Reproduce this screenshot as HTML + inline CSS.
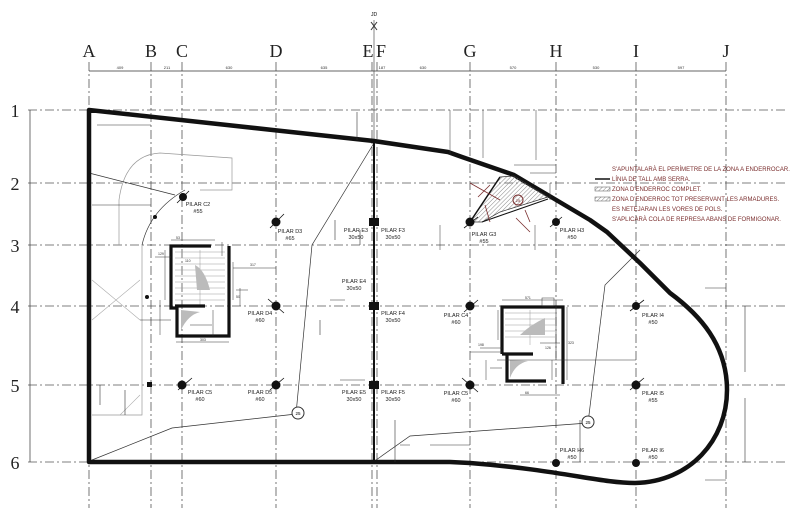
<!DOCTYPE html>
<html><head><meta charset="utf-8"><style>
html,body{margin:0;padding:0;background:#fff;}
svg{display:block;}
.s{font-family:"Liberation Sans",sans-serif;}
.ser{font-family:"Liberation Serif",serif;}
</style></head><body>
<svg width="800" height="532" viewBox="0 0 800 532" xmlns="http://www.w3.org/2000/svg">
<defs>
<pattern id="hat" width="3" height="3" patternUnits="userSpaceOnUse" patternTransform="rotate(45)"><line x1="0" y1="0" x2="0" y2="3" stroke="#888" stroke-width="1"/></pattern>
</defs>
<g stroke="#555" stroke-width="0.8" stroke-dasharray="9,3,2,3" fill="none">
<line x1="89" y1="62" x2="89" y2="508"/>
<line x1="151" y1="62" x2="151" y2="508"/>
<line x1="182" y1="62" x2="182" y2="508"/>
<line x1="276" y1="62" x2="276" y2="508"/>
<line x1="372" y1="62" x2="372" y2="508"/>
<line x1="377" y1="62" x2="377" y2="508"/>
<line x1="470" y1="62" x2="470" y2="508"/>
<line x1="556" y1="62" x2="556" y2="508"/>
<line x1="636" y1="62" x2="636" y2="508"/>
<line x1="726" y1="62" x2="726" y2="508"/>
</g>
<g stroke="#555" stroke-width="0.8" stroke-dasharray="9,3,2,3" fill="none">
<line x1="28" y1="110" x2="785" y2="110"/>
<line x1="28" y1="183" x2="785" y2="183"/>
<line x1="28" y1="245" x2="785" y2="245"/>
<line x1="28" y1="306" x2="785" y2="306"/>
<line x1="28" y1="385" x2="785" y2="385"/>
<line x1="28" y1="462" x2="785" y2="462"/>
</g>
<g class="ser" font-size="18" fill="#222" text-anchor="middle">
<text x="89" y="57">A</text><text x="151" y="57">B</text><text x="182" y="57">C</text><text x="276" y="57">D</text>
<text x="368" y="57">E</text><text x="381" y="57">F</text><text x="470" y="57">G</text><text x="556" y="57">H</text>
<text x="636" y="57">I</text><text x="726" y="57">J</text>
<text x="15" y="117">1</text><text x="15" y="190">2</text><text x="15" y="252">3</text><text x="15" y="313">4</text><text x="15" y="392">5</text><text x="15" y="469">6</text>
</g>
<g stroke="#333" stroke-width="0.7">
<line x1="89" y1="71" x2="726" y2="71"/>
<line x1="30" y1="110" x2="30" y2="462"/>
</g>
<g class="s" font-size="4" fill="#333" text-anchor="middle">
<text x="120" y="69">409</text><text x="167" y="69">211</text><text x="229" y="69">630</text><text x="324" y="69">635</text><text x="382" y="69">187</text><text x="423" y="69">630</text><text x="513" y="69">570</text><text x="596" y="69">530</text><text x="681" y="69">597</text>
</g>
<text class="s" x="374" y="16" font-size="5" text-anchor="middle">JD</text>
<line x1="371" y1="22" x2="377" y2="30" stroke="#333"/><line x1="377" y1="22" x2="371" y2="30" stroke="#333"/>
<line x1="374" y1="20" x2="374" y2="140" stroke="#333" stroke-width="0.6"/>
<path d="M119,245 L119,200 Q125,155 160,153 L232,158 L232,190 L200,190" stroke="#999" stroke-width="0.7" fill="none"/>
<path d="M142,245 Q150,210 185,190" stroke="#333" stroke-width="0.7" fill="none"/>
<path d="M89,173 L175,195" stroke="#333" stroke-width="0.7" fill="none"/>
<path d="M92,415 L142,415 L142,245" stroke="#999" stroke-width="0.7" fill="none"/>
<path d="M92,320 L140,280 M92,280 L140,320 M120,415 L140,395" stroke="#aaa" stroke-width="0.6" fill="none"/>
<path d="M92,460 L172,428 L296,414 L312,245 L374,143" stroke="#333" stroke-width="0.7" fill="none"/>
<path d="M376,460 L410,436 L588,423 L605,285 L640,250" stroke="#333" stroke-width="0.7" fill="none"/>
<circle cx="298" cy="413" r="6" fill="#fff" stroke="#333"/><text class="s" x="298" y="415" font-size="4.5" text-anchor="middle">25</text>
<circle cx="588" cy="422" r="6" fill="#fff" stroke="#333"/><text class="s" x="588" y="424" font-size="4.5" text-anchor="middle">25</text>
<path d="M89,110 L374,141 L448,152 L462,157 L514,175 L590,220 L607,232 L640,263 L670,293 C700,315 727,345 727,390 C727,440 690,482 635,483 C600,483 560,470 470,463 L450,462 L89,462 Z" stroke="#111" stroke-width="4.5" fill="none" stroke-linejoin="round"/>
<line x1="374" y1="141" x2="374" y2="462" stroke="#111" stroke-width="2"/>
<!-- stair left -->
<g stroke="#999" stroke-width="0.5">
<path d="M175,252 H225 M175,258 H225 M175,264 H225 M175,270 H225 M175,276 H225 M175,282 H225 M175,288 H225 M175,294 H225 M175,300 H225 M200,250 V305"/>
</g>
<path d="M195,265 Q205,270 210,290 L197,290 Z" fill="#bbb"/>
<path d="M181,310 L181,330 Q188,315 200,312 Z" fill="#bbb"/>
<g stroke="#111" stroke-width="3.2" fill="none">
<path d="M211,246 L171,246 L171,308 L177,308 L177,336 L229,336 L229,246"/>
<line x1="175" y1="306" x2="205" y2="306"/>
</g>
<g stroke="#333" stroke-width="0.5" fill="none">
<path d="M171,240 H215 M165,250 V300 M155,257 H171 M222,242 V256 M233,262 V300 M233,268 H276 M240,288 V306 M236,290 H248 M176,342 H229 M213,310 V336 M190,325 H212 M140,320 H171 M160,300 V335"/>
</g>
<g class="s" font-size="3.5" fill="#333"><text x="176" y="239">53</text><text x="158" y="255">129</text><text x="250" y="266">317</text><text x="200" y="341">303</text><text x="185" y="262">110</text><text x="236" y="298">50</text></g>
<!-- stair right -->
<g stroke="#999" stroke-width="0.5"><path d="M505,313 H555 M505,319 H555 M505,325 H555 M505,331 H555 M505,337 H555 M530,310 V345"/></g>
<path d="M520,335 Q530,325 545,318 L545,335 Z" fill="#bbb"/>
<path d="M510,360 L510,378 Q515,364 528,361 Z" fill="#bbb"/>
<g stroke="#111" stroke-width="3.2" fill="none">
<path d="M502,354 L502,307 L563,307 L563,384"/>
<path d="M502,354 L533,354 M507,354 L507,381 L546,381"/>
</g>
<g stroke="#333" stroke-width="0.5" fill="none">
<path d="M502,300 H563 M498,310 V340 M567,307 V380 M480,348 H502 M486,360 V380 M490,368 H502 M520,395 H560 M540,343 H560 M552,360 V380 M470,352 H502"/>
<rect x="542" y="298" width="12" height="8"/>
</g>
<g class="s" font-size="3.5" fill="#333"><text x="525" y="299">571</text><text x="568" y="344">323</text><text x="525" y="394">66</text><text x="545" y="349">126</text><text x="478" y="346">198</text></g>
<!-- demolition zone -->
<path d="M470,222 L500,177 L514,176 L548,197 L500,212 L482,222 Z" fill="url(#hat)" stroke="#333" stroke-width="0.7"/>
<line x1="470" y1="222" x2="500" y2="177" stroke="#111" stroke-width="1.5"/>
<line x1="482" y1="222" x2="548" y2="199" stroke="#111" stroke-width="1"/>
<circle cx="518" cy="200" r="5" fill="none" stroke="#7a2e2e"/><text class="s" x="518" y="202" font-size="4" text-anchor="middle" fill="#7a2e2e">25</text>
<g stroke="#7a2e2e" stroke-width="0.8" fill="none"><path d="M470,183 L500,200 M516,218 L530,232 M490,185 L478,197 M485,205 L490,222 M525,210 L530,222"/></g>
<g stroke="#333" stroke-width="0.5" fill="none"><path d="M450,110 V155 M483,110 V158 M536,110 V160 M514,165 H556 M530,173 H556 M550,183 V200 M440,250 V225 M535,250 V225"/></g>
<!-- pillars -->
<g fill="#111">
<circle cx="183" cy="197" r="4"/><circle cx="155" cy="217" r="2"/>
<circle cx="276" cy="222" r="4.5"/>
<circle cx="276" cy="306" r="4.5"/><circle cx="182" cy="385" r="4.5"/><circle cx="276" cy="385" r="4.5"/>
<circle cx="147" cy="297" r="2"/><rect x="147" y="382" width="5" height="5"/>
<rect x="369" y="218" width="10" height="8"/><rect x="369" y="302" width="10" height="8"/><rect x="369" y="381" width="10" height="8"/>
<circle cx="470" cy="222" r="4.5"/><circle cx="556" cy="222" r="4"/>
<circle cx="470" cy="306" r="4.5"/><circle cx="470" cy="385" r="4.5"/>
<circle cx="636" cy="306" r="4"/><circle cx="636" cy="385" r="4.5"/>
<circle cx="556" cy="463" r="4"/><circle cx="636" cy="463" r="4"/>
</g>
<g stroke="#111" stroke-width="0.8"><path d="M177,203 L189,191 M270,228 L284,214 M268,299 L284,313 M178,390 L192,378 M270,390 L284,378 M464,228 L478,217 M550,227 L562,217 M464,312 L478,300 M462,378 L478,392 M630,311 L644,300 M630,390 L644,378"/></g>
<g class="s" font-size="5.5" fill="#222" text-anchor="middle">
<text x="198" y="206">PILAR C2</text><text x="198" y="213">#55</text>
<text x="290" y="233">PILAR D3</text><text x="290" y="240">#65</text>
<text x="356" y="232">PILAR E3</text><text x="356" y="239">30x50</text>
<text x="393" y="232">PILAR F3</text><text x="393" y="239">30x50</text>
<text x="354" y="283">PILAR E4</text><text x="354" y="290">30x50</text>
<text x="393" y="315">PILAR F4</text><text x="393" y="322">30x50</text>
<text x="260" y="315">PILAR D4</text><text x="260" y="322">#60</text>
<text x="200" y="394">PILAR C5</text><text x="200" y="401">#60</text>
<text x="260" y="394">PILAR D5</text><text x="260" y="401">#60</text>
<text x="354" y="394">PILAR E5</text><text x="354" y="401">30x50</text>
<text x="393" y="394">PILAR F5</text><text x="393" y="401">30x50</text>
<text x="484" y="236">PILAR G3</text><text x="484" y="243">#55</text>
<text x="572" y="232">PILAR H3</text><text x="572" y="239">#50</text>
<text x="456" y="317">PILAR C4</text><text x="456" y="324">#60</text>
<text x="456" y="395">PILAR C5</text><text x="456" y="402">#60</text>
<text x="653" y="317">PILAR I4</text><text x="653" y="324">#50</text>
<text x="653" y="395">PILAR I5</text><text x="653" y="402">#55</text>
<text x="572" y="452">PILAR H6</text><text x="572" y="459">#50</text>
<text x="653" y="452">PILAR I6</text><text x="653" y="459">#50</text>
</g>
<g class="s" font-size="6" fill="#7a2e2e">
<text x="612" y="171">S'APUNTALARÀ EL PERÍMETRE DE LA ZONA A ENDERROCAR.</text>
<text x="612" y="181">LÍNIA DE TALL AMB SERRA.</text>
<text x="612" y="191">ZONA D'ENDERROC COMPLET.</text>
<text x="612" y="201">ZONA D'ENDERROC TOT PRESERVANT LES ARMADURES.</text>
<text x="612" y="211">ES NETEJARAN LES VORES DE POLS.</text>
<text x="612" y="221">S'APLICARÀ COLA DE REPRESA ABANS DE FORMIGONAR.</text>
</g>
<line x1="595" y1="179" x2="610" y2="179" stroke="#111" stroke-width="1.5"/>
<rect x="595" y="187" width="15" height="4" fill="url(#hat)" stroke="#555" stroke-width="0.5"/>
<rect x="595" y="197" width="15" height="4" fill="url(#hat)" stroke="#555" stroke-width="0.5"/>
<g stroke="#333" stroke-width="0.6" fill="none">
<path d="M705,288 H726 M745,306 V372 M745,398 V462 M705,480 H726 M97,125 H151 M92,205 H151 M556,358 V306 M497,360 H636 M430,445 H470 M400,445 H410 M357,112 V140 M320,320 V335 M330,300 H345 M360,230 V245 M395,420 V462 M580,420 V462 M100,405 V385 M125,390 V415 M335,220 V240 M340,380 H365"/>
</g>
</svg>
</body></html>
